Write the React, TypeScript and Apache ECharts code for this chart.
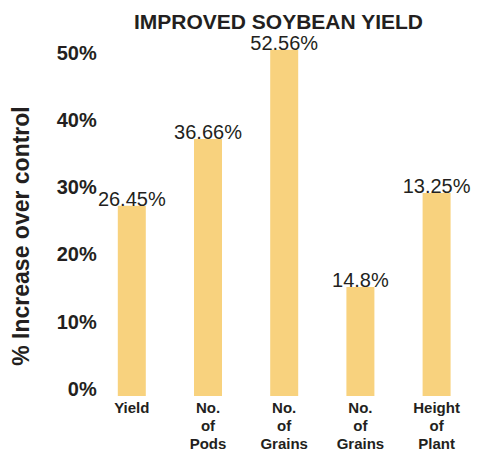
import React, { useEffect, useRef } from "react";
import * as echarts from "echarts";

const categories = ["Yield", "No.\nof\nPods", "No.\nof\nGrains", "No.\nof\nGrains", "Height\nof\nPlant"];
const barValues = [28.3, 38.2, 51.5, 16.2, 30.2];
const valueLabels = ["26.45%", "36.66%", "52.56%", "14.8%", "13.25%"];
const yTicks = [0, 10, 20, 30, 40, 50];

const TEXT = "#231F20";
const BAR = "#F8D27E";
const FONT = "'Liberation Sans', Arial, Helvetica, sans-serif";

export default function App() {
  const ref = useRef<HTMLDivElement>(null);
  useEffect(() => {
    if (!ref.current) return;
    const chart = echarts.init(ref.current, null, { renderer: "svg" });
    chart.setOption({
      animation: false,
      title: {
        text: "IMPROVED SOYBEAN YIELD",
        left: 134,
        top: 11,
        padding: 0,
        textStyle: { fontFamily: FONT, fontSize: 21, fontWeight: "bold", color: TEXT },
      },
      graphic: [
        {
          type: "text",
          x: 21,
          y: 236,
          rotation: Math.PI / 2,
          style: {
            text: "% Increase over control",
            fontFamily: FONT,
            fontSize: 23,
            fontWeight: "bold",
            fill: TEXT,
            textAlign: "center",
            textVerticalAlign: "middle",
          },
        },
      ],
      grid: { left: 93.7, right: 3.3, top: 26.1, bottom: 53 },
      xAxis: {
        type: "category",
        data: categories,
        axisLine: { show: false },
        axisTick: { show: false },
        axisLabel: {
          interval: 0,
          margin: 2,
          fontFamily: FONT,
          fontSize: 15,
          fontWeight: "bold",
          lineHeight: 18,
          color: TEXT,
        },
      },
      yAxis: {
        type: "value",
        min: 0,
        max: 55,
        interval: 10,
        splitLine: { show: false },
        axisLine: { show: false },
        axisTick: { show: false },
        axisLabel: {
          showMaxLabel: false,
          margin: -3,
          fontFamily: FONT,
          fontSize: 20,
          fontWeight: "bold",
          color: TEXT,
          verticalAlign: "bottom",
          lineHeight: 14,
          formatter: (v: number) => (yTicks.includes(v) ? v + "%" : ""),
        },
      },
      series: [
        {
          type: "bar",
          data: barValues,
          barWidth: 28,
          itemStyle: { color: BAR },
          label: {
            show: true,
            position: "top",
            distance: -3,
            fontFamily: FONT,
            fontSize: 20,
            color: TEXT,
            formatter: (p: any) => valueLabels[p.dataIndex],
          },
        },
      ],
    });
    return () => chart.dispose();
  }, []);
  return (
    <div
      ref={ref}
      style={{ position: "absolute", left: 0, top: 0, width: 478, height: 452, background: "#fff" }}
    />
  );
}
